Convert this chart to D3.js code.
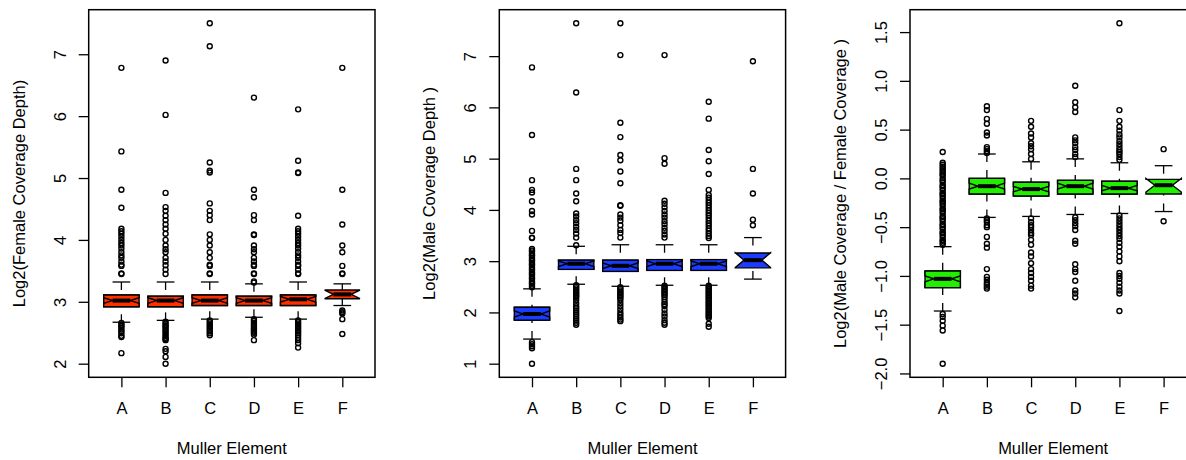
<!DOCTYPE html>
<html><head><meta charset="utf-8">
<script src="https://cdn.jsdelivr.net/npm/d3@7"></script>
<style>
body{margin:0;background:#fff}
svg{display:block}
text{font-family:"Liberation Sans",Arial,Helvetica,sans-serif;font-size:16.5px;fill:#000}
</style>
</head><body>
<svg id="chart" width="1186" height="460"></svg>
<script>
const categories = ["A","B","C","D","E","F"];

// [lower whisker, Q1, median, Q3, upper whisker]
const femaleStats = [
  [2.67, 2.92, 3.02, 3.11, 3.32],
  [2.70, 2.92, 3.02, 3.09, 3.32],
  [2.72, 2.94, 3.02, 3.11, 3.32],
  [2.75, 2.94, 3.02, 3.09, 3.29],
  [2.72, 2.94, 3.04, 3.11, 3.32],
  [2.94, 3.05, 3.12, 3.19, 3.29]
];
const femaleNotch = [0.045, 0.045, 0.045, 0.045, 0.045, 0.07];
const femaleOutliers = [
  [6.78, 5.43, 4.81, 4.52, 4.18, 4.14, 4.10, 4.05, 4.00, 3.95, 3.91, 3.86, 3.80, 3.75, 3.71, 3.65, 3.60, 3.58, 3.46, 3.45,
   2.66, 2.63, 2.61, 2.58, 2.55, 2.52, 2.49, 2.45, 2.43, 2.17],
  [6.90, 6.02, 4.76, 4.53, 4.47, 4.39, 4.32, 4.25, 4.18, 4.10, 4.00, 3.91, 3.85, 3.80, 3.71, 3.65, 3.59, 3.52, 3.45,
   2.68, 2.65, 2.62, 2.60, 2.57, 2.54, 2.51, 2.48, 2.45, 2.42, 2.40, 2.38, 2.24, 2.20, 2.11, 2.00],
  [7.50, 7.13, 5.25, 5.12, 5.09, 4.59, 4.47, 4.40, 4.32, 4.09, 4.00, 3.91, 3.80, 3.71, 3.60, 3.58, 3.46, 3.45,
   2.70, 2.67, 2.64, 2.61, 2.58, 2.55, 2.52, 2.49, 2.46],
  [6.30, 4.81, 4.69, 4.40, 4.32, 4.09, 4.08, 3.91, 3.85, 3.80, 3.71, 3.65, 3.60, 3.58, 3.46, 3.45, 3.33, 3.31,
   2.72, 2.69, 2.66, 2.63, 2.60, 2.57, 2.55, 2.52, 2.50, 2.47, 2.38],
  [6.11, 5.28, 5.09, 5.08, 4.39, 4.18, 4.14, 4.10, 4.05, 4.00, 3.95, 3.91, 3.86, 3.80, 3.75, 3.71, 3.65, 3.60, 3.58, 3.52, 3.46, 3.45,
   2.70, 2.67, 2.64, 2.61, 2.58, 2.55, 2.52, 2.49, 2.46, 2.42, 2.38, 2.33, 2.26],
  [6.78, 4.81, 4.25, 3.91, 3.80, 3.58, 3.46, 3.45,
   2.86, 2.83, 2.81, 2.72, 2.48]
];

const maleStats = [
  [1.48, 1.85, 1.97, 2.10, 2.46],
  [2.55, 2.84, 2.95, 3.02, 3.29],
  [2.51, 2.80, 2.91, 3.02, 3.32],
  [2.53, 2.82, 2.95, 3.03, 3.32],
  [2.53, 2.82, 2.95, 3.03, 3.32],
  [2.65, 2.87, 3.02, 3.16, 3.46]
];
const maleNotch = [0.06, 0.055, 0.055, 0.055, 0.055, 0.145];
const maleOutliers = [
  [6.78, 5.46, 4.58, 4.39, 4.34, 4.17, 3.98, 3.91, 3.59, 3.46, 3.45,
   3.24, 3.21, 3.19, 3.15, 3.12, 3.10, 3.06, 3.03, 3.01, 2.97, 2.94, 2.92, 2.88, 2.85, 2.83, 2.79, 2.76, 2.74, 2.70, 2.67, 2.65, 2.61, 2.58, 2.56, 2.52, 2.49,
   1.42, 1.38, 1.34, 1.30, 1.00],
  [7.64, 6.29, 4.80, 4.58, 4.32, 4.17, 3.93, 3.87, 3.80, 3.74, 3.67, 3.61, 3.54, 3.46, 3.31,
   2.53, 2.50, 2.47, 2.44, 2.41, 2.38, 2.35, 2.32, 2.29, 2.24, 2.18, 2.12, 2.08, 2.04, 2.00, 1.96, 1.92, 1.88, 1.84, 1.80, 1.76],
  [7.64, 7.02, 5.70, 5.42, 5.07, 4.97, 4.75, 4.52, 4.09, 4.08, 3.91, 3.85, 3.79, 3.70, 3.61, 3.55, 3.46,
   2.49, 2.46, 2.43, 2.40, 2.37, 2.34, 2.31, 2.28, 2.24, 2.18, 2.12, 2.06, 2.00, 1.95, 1.90, 1.86, 1.83],
  [7.02, 5.01, 4.90, 4.18, 4.12, 4.05, 3.98, 3.91, 3.85, 3.78, 3.72, 3.65, 3.59, 3.52, 3.46,
   2.52, 2.49, 2.46, 2.43, 2.40, 2.37, 2.34, 2.30, 2.25, 2.20, 2.16, 2.12, 2.05, 1.98, 1.92, 1.85, 1.80, 1.76],
  [6.11, 5.78, 5.17, 4.95, 4.70, 4.39, 4.29, 4.24, 4.19, 4.14, 4.09, 4.04, 3.99, 3.94, 3.89, 3.84, 3.79, 3.74, 3.69, 3.64, 3.59, 3.54, 3.49, 3.45,
   2.52, 2.49, 2.46, 2.43, 2.40, 2.37, 2.34, 2.31, 2.28, 2.25, 2.22, 2.19, 2.16, 2.13, 2.10, 2.07, 2.04, 2.01, 1.98, 1.95, 1.92, 1.89, 1.78, 1.72],
  [6.90, 4.80, 4.32, 3.81, 3.70]
];

const ratioStats = [
  [-1.36, -1.12, -1.03, -0.95, -0.70],
  [-0.40, -0.16, -0.08, 0.00, 0.25],
  [-0.39, -0.18, -0.11, -0.04, 0.17],
  [-0.37, -0.16, -0.08, -0.02, 0.20],
  [-0.36, -0.16, -0.10, -0.03, 0.16],
  [-0.34, -0.16, -0.07, -0.01, 0.13]
];
const ratioNotch = [0.03, 0.03, 0.027, 0.03, 0.027, 0.07];
const ratioOutliers = [
  [0.27, 0.16, 0.14, 0.12, 0.10, 0.08, 0.06, 0.04, 0.03, 0.00, -0.02, -0.04, -0.07, -0.08, -0.10, -0.12, -0.15, -0.16, -0.18, -0.20, -0.23, -0.24, -0.26, -0.28, -0.31, -0.32, -0.34, -0.36, -0.39, -0.40, -0.42, -0.44, -0.47, -0.48, -0.50, -0.52, -0.55, -0.56, -0.58, -0.60, -0.63, -0.64, -0.66, -0.68,
   -1.39, -1.42, -1.46, -1.51, -1.56, -1.90],
  [0.74, 0.70, 0.61, 0.56, 0.47, 0.44, 0.32, 0.30, 0.28, 0.26,
   -0.41, -0.43, -0.45, -0.48, -0.50, -0.60, -0.67, -0.71, -0.93, -1.01, -1.04, -1.07, -1.09, -1.11, -1.13],
  [0.59, 0.53, 0.46, 0.42, 0.36, 0.33, 0.30, 0.25, 0.20,
   -0.41, -0.45, -0.48, -0.50, -0.53, -0.56, -0.58, -0.63, -0.68, -0.76, -0.80, -0.87, -0.93, -0.97, -1.01, -1.05, -1.10, -1.13],
  [0.95, 0.78, 0.73, 0.68, 0.42, 0.39, 0.36, 0.32, 0.29, 0.25, 0.22,
   -0.40, -0.43, -0.46, -0.49, -0.53, -0.64, -0.67, -0.88, -0.93, -0.96, -1.05, -1.15, -1.18, -1.22],
  [1.59, 0.70, 0.59, 0.53, 0.49, 0.45, 0.42, 0.38, 0.35, 0.32, 0.29, 0.27, 0.25, 0.22, 0.19,
   -0.38, -0.41, -0.44, -0.47, -0.50, -0.53, -0.56, -0.59, -0.62, -0.66, -0.70, -0.75, -0.80, -0.85, -0.97, -1.00, -1.03, -1.07, -1.11, -1.15, -1.18, -1.36],
  [0.30, -0.44]
];

const femaleTicks = [2, 3, 4, 5, 6, 7];
const maleTicks = [1, 2, 3, 4, 5, 6, 7];
const ratioTicks = [-2.0, -1.5, -1.0, -0.5, 0.0, 0.5, 1.0, 1.5];

const xTitle = "Muller Element";
const yTitles = ["Log2(Female Coverage Depth)", "Log2(Male Coverage Depth )", "Log2(Male Coverage / Female Coverage )"];
const colors = ["#ff2f00", "#1c3cff", "#22ee00"];

const svg = d3.select("#chart");
const TOP = 9.7, BOTTOM = 377.3, W = 286.3;

function panel(left, stats, notch, outliers, ticks, fmt, color, ytitle) {
  const g = svg.append("g");
  const all = stats.flat().concat(outliers.flat());
  const [mn, mx] = d3.extent(all);
  const pad = (mx - mn) * 0.04;
  const y = d3.scaleLinear().domain([mn - pad, mx + pad]).range([BOTTOM, TOP]);
  const x = d3.scaleLinear().domain([0.26, categories.length + 0.74]).range([left, left + W]);
  const half = (x(2) - x(1)) * 0.4;

  // axes
  const ya = g.append("g").attr("transform", `translate(${left},0)`)
    .call(d3.axisLeft(y).tickValues(ticks).tickFormat(fmt).tickSize(10).tickSizeOuter(0));
  ya.select(".domain").remove();
  ya.selectAll(".tick line").attr("stroke", "#000").attr("stroke-width", 1.3);
  ya.selectAll(".tick text").attr("x", null).attr("dy", "0.36em")
    .attr("text-anchor", "middle").attr("transform", "translate(-29,0) rotate(-90)")
    .style("font-size", "16.5px").style("font-family", '"Liberation Sans",Arial,sans-serif');

  const xa = g.append("g").attr("transform", `translate(0,${BOTTOM})`)
    .call(d3.axisBottom(x).tickValues(categories.map((c, i) => i + 1))
      .tickFormat(d => categories[d - 1]).tickSize(10).tickSizeOuter(0));
  xa.select(".domain").remove();
  xa.selectAll(".tick line").attr("stroke", "#000").attr("stroke-width", 1.3);
  xa.selectAll(".tick text").attr("y", 36.7).attr("dy", null)
    .style("font-size", "16.5px").style("font-family", '"Liberation Sans",Arial,sans-serif');

  // titles
  g.append("text").attr("x", left + W / 2).attr("y", 454).attr("text-anchor", "middle").text(xTitle);
  g.append("text").attr("transform", `translate(${left - 69},${(TOP + BOTTOM) / 2}) rotate(-90)`)
    .attr("dy", "0.3em").attr("text-anchor", "middle").text(ytitle);

  const boxes = g.append("g");
  stats.forEach((s, i) => {
    const cx = x(i + 1);
    const [lw, q1, med, q3, uw] = s;
    const clo = med - notch[i], chi = med + notch[i];
    // whiskers (dashed, drawn from whisker end toward hinge)
    boxes.append("line").attr("x1", cx).attr("x2", cx).attr("y1", y(uw)).attr("y2", y(q3))
      .attr("stroke", "#000").attr("stroke-width", 1.3).attr("stroke-dasharray", "8,8");
    boxes.append("line").attr("x1", cx).attr("x2", cx).attr("y1", y(lw)).attr("y2", y(q1))
      .attr("stroke", "#000").attr("stroke-width", 1.3).attr("stroke-dasharray", "8,8");
    // staples
    [lw, uw].forEach(v => {
      boxes.append("line").attr("x1", cx - half / 2).attr("x2", cx + half / 2)
        .attr("y1", y(v)).attr("y2", y(v)).attr("stroke", "#000").attr("stroke-width", 1.3);
    });
    // underlying rectangle when the notch lies well inside the hinges
    if (notch[i] < 0.5 * (q3 - q1) * 0.8) {
      boxes.append("rect").attr("x", cx - half).attr("y", y(q3))
        .attr("width", 2 * half).attr("height", y(q1) - y(q3))
        .attr("fill", color).attr("stroke", "#000").attr("stroke-width", 1.4);
    }
    // notched box
    const pts = [
      [cx - half, y(q1)], [cx + half, y(q1)], [cx + half, y(clo)], [cx + half / 2, y(med)],
      [cx + half, y(chi)], [cx + half, y(q3)], [cx - half, y(q3)], [cx - half, y(chi)],
      [cx - half / 2, y(med)], [cx - half, y(clo)]
    ];
    boxes.append("path").attr("d", d3.line()(pts) + "Z")
      .attr("fill", color).attr("stroke", "#000").attr("stroke-width", 1.4).attr("stroke-linejoin", "miter");
    // median
    boxes.append("line").attr("x1", cx - half / 2).attr("x2", cx + half / 2)
      .attr("y1", y(med)).attr("y2", y(med)).attr("stroke", "#000").attr("stroke-width", 4);
  });

  // outliers
  outliers.forEach((arr, i) => {
    g.append("g").selectAll("circle").data(arr).join("circle")
      .attr("cx", x(i + 1)).attr("cy", d => y(d)).attr("r", 2.5)
      .attr("fill", "none").attr("stroke", "#000").attr("stroke-width", 1.4);
  });

  // frame
  g.append("rect").attr("x", left).attr("y", TOP).attr("width", W).attr("height", BOTTOM - TOP)
    .attr("fill", "none").attr("stroke", "#000").attr("stroke-width", 1.5);
}

panel(88.7, femaleStats, femaleNotch, femaleOutliers, femaleTicks, d3.format("d"), colors[0], yTitles[0]);
panel(499.3, maleStats, maleNotch, maleOutliers, maleTicks, d3.format("d"), colors[1], yTitles[1]);
panel(910, ratioStats, ratioNotch, ratioOutliers, ratioTicks, d3.format(".1f"), colors[2], yTitles[2]);
</script>
</body></html>
